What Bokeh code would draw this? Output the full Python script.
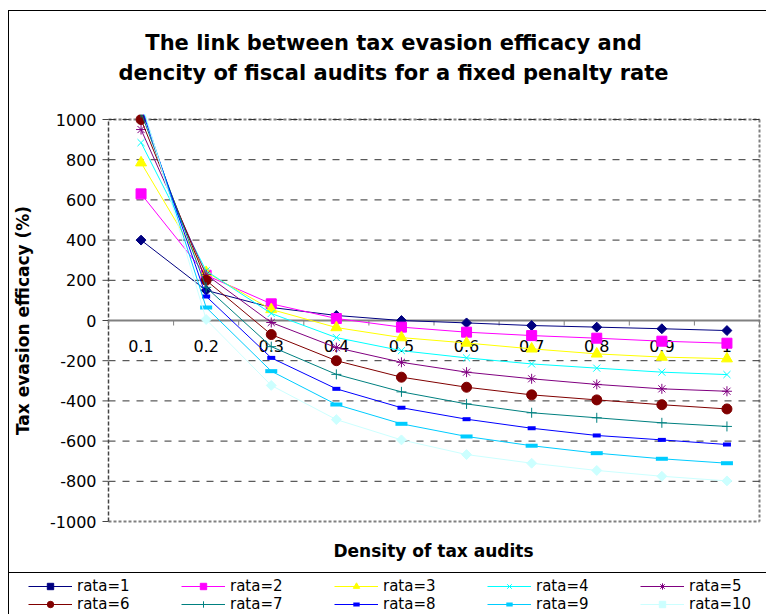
import math

from bokeh.core.properties import value
from bokeh.embed import file_html
from bokeh.models import BoxAnnotation, Label, Legend, LegendItem, Range1d
from bokeh.plotting import figure
from bokeh.resources import INLINE

# Density of fiscal audits (category axis)
density = [0.1, 0.2, 0.3, 0.4, 0.5, 0.6, 0.7, 0.8, 0.9, 1.0]
density_labels = ["0.1", "0.2", "0.3", "0.4", "0.5", "0.6", "0.7", "0.8", "0.9", "1"]

# Tax evasion efficacy (%) for each penalty rate
rata_1 = [400, 150, 65, 25, 0, -12, -25, -33, -41, -50]
rata_2 = [630, 225, 83, 10, -33, -58, -75, -88, -103, -113]
rata_3 = [785, 240, 55, -35, -85, -112, -141, -166, -182, -190]
rata_4 = [885, 247, 35, -85, -150, -186, -216, -237, -257, -269]
rata_5 = [950, 228, -10, -135, -208, -257, -290, -318, -340, -352]
rata_6 = [1000, 200, -70, -200, -282, -332, -370, -395, -419, -440]
rata_7 = [1035, 165, -130, -268, -355, -415, -459, -484, -509, -527]
rata_8 = [1060, 120, -186, -340, -434, -491, -536, -572, -594, -617]
rata_9 = [1080, 65, -252, -418, -514, -577, -623, -660, -688, -710]
rata_10 = [1095, 5, -323, -493, -594, -667, -710, -746, -775, -798]

series_labels = ["rata=1", "rata=2", "rata=3", "rata=4", "rata=5",
                 "rata=6", "rata=7", "rata=8", "rata=9", "rata=10"]
series_values = [rata_1, rata_2, rata_3, rata_4, rata_5,
                 rata_6, rata_7, rata_8, rata_9, rata_10]

y_ticks = [-1000, -800, -600, -400, -200, 0, 200, 400, 600, 800, 1000]
y_labels = [str(t) for t in y_ticks]

title_lines = ["The link between tax evasion efficacy and",
               "dencity of fiscal audits for a fixed penalty rate"]

# Marker styling per series: (colour, marker, size, angle, line width)
styles = [
    ("#000080", "square", 7, math.pi / 4, 1),
    ("#FF00FF", "square", 10, 0, 1),
    ("#FFFF00", "triangle", 11, 0, 1),
    ("#00FFFF", "x", 10, 0, 1),
    ("#800080", "asterisk", 10, 0, 1),
    ("#800000", "circle", 10, 0, 1),
    ("#008080", "cross", 10, 0, 1),
    ("#0000FF", "dash", 8, 0, 4),
    ("#00CCFF", "dash", 12, 0, 4),
    ("#CCFFFF", "square", 7, math.pi / 4, 1),
]

# ---- page geometry (pixels) -------------------------------------------
W, H = 766, 614
FRAME_L, FRAME_T = 8, 10                 # chart box: everything is drawn inside it
PLOT_L, PLOT_R, PLOT_T, PLOT_B = 108, 759, 119, 521   # plot area
LEGEND_RULE = 572                        # rule between plot and legend

step = density[1] - density[0]
x_lo, x_hi = density[0] - step / 2, density[-1] + step / 2
y_lo, y_hi = y_ticks[0], y_ticks[-1]
x_px = (PLOT_R - PLOT_L) / (x_hi - x_lo)
y_px = (PLOT_B - PLOT_T) / (y_hi - y_lo)

p = figure(
    width=W, height=H,
    x_range=Range1d(x_lo - (PLOT_L - FRAME_L) / x_px, x_hi + (W - PLOT_R) / x_px),
    y_range=Range1d(y_lo - (H - PLOT_B) / y_px, y_hi + (PLOT_T - FRAME_T) / y_px),
    output_backend="svg", toolbar_location=None,
    min_border_left=FRAME_L, min_border_top=FRAME_T, min_border_right=0, min_border_bottom=0,
    background_fill_alpha=0, border_fill_alpha=0, outline_line_color=None,
)
p.axis.visible = False
p.grid.visible = False

# chart border (left, top) and the rule above the legend, behind the canvas
rules = [(FRAME_L, FRAME_T, 1, H - FRAME_T), (FRAME_L, FRAME_T, W - FRAME_L, 1),
         (FRAME_L, LEGEND_RULE, W - FRAME_L, 1)]
p.styles = {
    "background-color": "white",
    "background-image": ", ".join(["linear-gradient(#000, #000)"] * len(rules)),
    "background-size": ", ".join(f"{w}px {h}px" for x, y, w, h in rules),
    "background-position": ", ".join(f"{x}px {y}px" for x, y, w, h in rules),
    "background-repeat": "no-repeat",
}

# plot-area border: dotted grey on top, right and bottom
p.segment(x0=[x_lo, x_hi, x_lo], y0=[y_hi, y_hi, y_lo],
          x1=[x_hi, x_hi, x_hi], y1=[y_hi, y_lo, y_lo],
          line_color="#808080", line_dash="3 2", line_width=2)

# horizontal dashed gridlines
grid = y_ticks[1:]
p.segment(x0=[x_lo] * len(grid), y0=grid, x1=[x_hi] * len(grid), y1=grid,
          line_color="#333333", line_dash="7 7", line_width=1)

# value axis on the left
p.segment(x0=[x_lo], y0=[y_lo], x1=[x_lo], y1=[y_hi],
          line_color="#444444", line_dash="4 2", line_width=1.5)
p.ray(x=[x_lo] * len(y_ticks), y=y_ticks, length=6, length_units="screen",
      angle=math.pi, line_color="#444444", line_width=1)
p.text(x=[x_lo] * len(y_ticks), y=y_ticks, text=y_labels, x_offset=-12,
       text_align="right", text_baseline="middle",
       text_font=value("DejaVu Sans"), text_font_size="16px", text_color="black")

# category axis crossing at zero
bounds = [d - step / 2 for d in density] + [x_hi]
p.segment(x0=[x_lo], y0=[0], x1=[x_hi], y1=[0], line_color="#808080", line_width=2)
p.ray(x=bounds, y=[0] * len(bounds), length=5, length_units="screen",
      angle=-math.pi / 2, line_color="#808080", line_width=1)
p.text(x=density, y=[0] * len(density), text=density_labels, y_offset=25,
       text_align="center", text_baseline="middle",
       text_font=value("DejaVu Sans"), text_font_size="16px", text_color="black")

items = []
for label, vals, (color, marker, size, angle, lw) in zip(series_labels, series_values, styles):
    ln = p.line(density, vals, line_color=color, line_width=1)
    sc = p.scatter(density, vals, marker=marker, size=size, angle=angle,
                   fill_color=color, line_color=color, line_width=lw)
    items.append(LegendItem(label=label, renderers=[ln, sc]))

# series running off the top of the plot area are cut just above it
p.add_layout(BoxAnnotation(left=x_lo, right=x_hi, bottom=y_hi + 25, top=y_hi + 250,
                           fill_color="white", fill_alpha=1, line_color=None))

legend = Legend(
    items=items, location=(28 - FRAME_L, 1), orientation="horizontal", ncols=5,
    glyph_width=44, glyph_height=16, label_standoff=5, label_width=104, label_height=16,
    spacing=0, padding=0, margin=0, border_line_color=None, background_fill_alpha=0,
    label_text_font="DejaVu Sans", label_text_font_size="15px", label_text_color="black",
)
p.add_layout(legend)


def screen_label(text, cx, cy, size, angle=0.0):
    """Bold text centred on canvas pixel (cx, cy)."""
    p.add_layout(Label(x=cx - FRAME_L, y=H - cy, x_units="screen", y_units="screen",
                       text=text, angle=angle, text_align="center", text_baseline="middle",
                       text_font="DejaVu Sans", text_font_style="bold",
                       text_font_size=size, text_color="black"))


screen_label(title_lines[0], 393, 42, "21px")
screen_label(title_lines[1], 393, 72, "21px")
screen_label("Density of tax audits", 433, 550, "17px")
screen_label("Tax evasion efficacy (%)", 22, (PLOT_T + PLOT_B) / 2, "17px", math.pi / 2)

open("out.html", "w").write(file_html(p, INLINE))
